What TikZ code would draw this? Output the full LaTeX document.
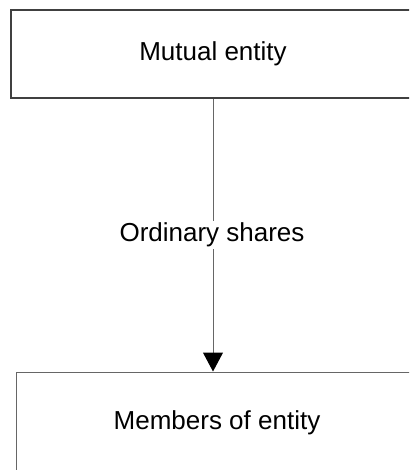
\documentclass[tikz,border=0pt]{standalone}
\usepackage{fontspec}
\setmainfont{Liberation Sans}
\usetikzlibrary{arrows.meta}
\begin{document}
\begin{tikzpicture}[x=1pt,y=1pt,
  box/.style={draw=black!75, line width=1.3pt, rectangle, inner sep=0pt, font=\fontsize{26}{31}\selectfont},
  conn/.style={draw=black!60, line width=1pt, -{Triangle[width=20pt,length=19pt,color=black]}},
  lbl/.style={fill=white, inner sep=2pt, font=\fontsize{26}{31}\selectfont}]
\useasboundingbox (0,0) rectangle (409,-470);
\clip (0,0) rectangle (409,-470);
\node[box, minimum width=404pt, minimum height=88pt] (top) at (213,-54) {Mutual entity};
\node[box, draw=black!60, line width=1pt, minimum width=402pt, minimum height=102pt] (bot) at (217,-423) {Members of entity};
\coordinate (tip) at (top.south |- bot.north);
\draw[conn] (top.south) -- (tip);
\node[lbl, anchor=base] (lab) at (212,-241.7) {Ordinary shares};
\end{tikzpicture}
\end{document}
